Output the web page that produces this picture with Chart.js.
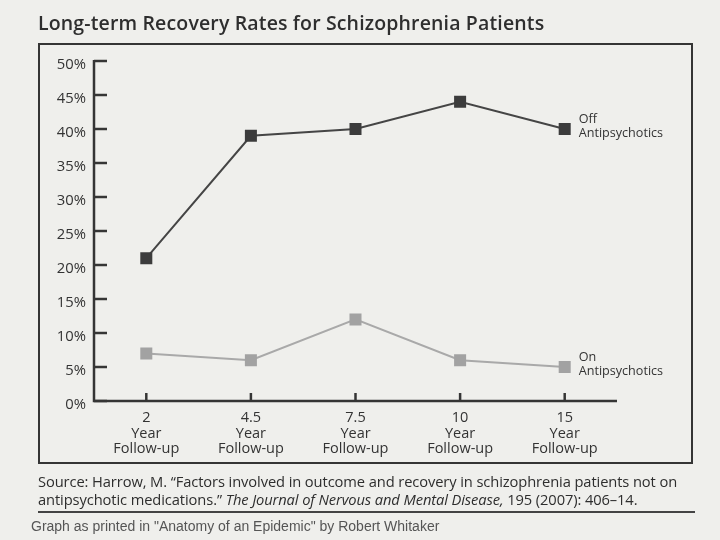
<!DOCTYPE html>
<html>
<head>
<meta charset="utf-8">
<script src="https://cdn.jsdelivr.net/npm/chart.js@4.4.1/dist/chart.umd.min.js"></script>
<style>
  html, body { margin: 0; padding: 0; background: #efefec; }
  #wrap { position: relative; width: 720px; height: 540px; overflow: hidden; font-family: "Open Sans", sans-serif; color: #333; }
  #c { position: absolute; left: 0; top: 0; }
  .t { position: absolute; white-space: nowrap; }
  #title { left: 38px; top: 9px; font-size: 19.5px; font-weight: 600; color: #2e2e2e; letter-spacing: 0.15px; }
  #box { position: absolute; left: 38px; top: 43px; width: 651px; height: 417px; border: 2.5px solid #353535; }
  #src1 { left: 38px; top: 471px; font-size: 14.7px; color: #2e2e2e; letter-spacing: -0.1px; }
  #src2 { left: 38px; top: 489px; font-size: 14.7px; color: #2e2e2e; letter-spacing: -0.1px; }
  #rule { position: absolute; left: 38px; top: 511px; width: 657px; height: 2px; background: #444; }
  #cap { left: 31px; top: 518px; font-family: "Liberation Sans", Arial, sans-serif; font-size: 14px; color: #555; }
</style>
</head>
<body>
<div id="wrap">
  <div id="box"></div>
  <canvas id="c" width="720" height="540"></canvas>
  <div class="t" id="title">Long-term Recovery Rates for Schizophrenia Patients</div>
  <div class="t" id="src1">Source: Harrow, M. “Factors involved in outcome and recovery in schizophrenia patients not on</div>
  <div class="t" id="src2">antipsychotic medications.” <i>The Journal of Nervous and Mental Disease,</i> 195 (2007): 406–14.</div>
  <div id="rule"></div>
  <div class="t" id="cap">Graph as printed in "Anatomy of an Epidemic" by Robert Whitaker</div>
</div>
<script>
const categories = [['2', 'Year', 'Follow-up'], ['4.5', 'Year', 'Follow-up'], ['7.5', 'Year', 'Follow-up'], ['10', 'Year', 'Follow-up'], ['15', 'Year', 'Follow-up']];
const offValues = [21, 39, 40, 44, 40];
const onValues = [7, 6, 12, 6, 5];
const seriesLabels = [['Off', 'Antipsychotics'], ['On', 'Antipsychotics']];
const yTicks = [0, 5, 10, 15, 20, 25, 30, 35, 40, 45, 50];

// axes, ticks and end labels drawn from the chart's own scales
const axesPlugin = {
  id: 'axesPlugin',
  afterDatasetsDraw(chart) {
    const ctx = chart.ctx;
    const area = chart.chartArea;
    const x = chart.scales.x, y = chart.scales.y;
    ctx.save();
    ctx.strokeStyle = '#353535';
    ctx.lineWidth = 2.5;
    ctx.beginPath();
    ctx.moveTo(area.left, y.getPixelForValue(50) - 1);
    ctx.lineTo(area.left, area.bottom);
    ctx.lineTo(area.right, area.bottom);
    ctx.stroke();

    ctx.fillStyle = '#333';
    ctx.font = '14.8px "Open Sans", sans-serif';
    ctx.textAlign = 'right';
    ctx.textBaseline = 'middle';
    yTicks.forEach(v => {
      const py = y.getPixelForValue(v);
      ctx.beginPath();
      ctx.moveTo(area.left, py);
      ctx.lineTo(area.left + 13, py);
      ctx.stroke();
      ctx.fillText(v + '%', area.left - 8, py + 4);
    });

    ctx.textAlign = 'center';
    ctx.font = '14.5px "Open Sans", sans-serif';
    categories.forEach((lines, i) => {
      const px = x.getPixelForValue(i);
      ctx.beginPath();
      ctx.moveTo(px, area.bottom);
      ctx.lineTo(px, area.bottom - 8);
      ctx.stroke();
      lines.forEach((s, j) => ctx.fillText(s, px, area.bottom + 17 + j * 15.5));
    });

    ctx.textAlign = 'left';
    ctx.font = '12.6px "Open Sans", sans-serif';
    chart.data.datasets.forEach((ds, k) => {
      const last = ds.data.length - 1;
      const px = x.getPixelForValue(last);
      const py = y.getPixelForValue(ds.data[last]);
      const lab = seriesLabels[k];
      ctx.fillText(lab[0], px + 14, py - 10);
      ctx.fillText(lab[1], px + 14, py + 4);
    });
    ctx.restore();
  }
};

new Chart(document.getElementById('c'), {
  type: 'line',
  data: {
    labels: categories.map(c => c.join(' ')),
    datasets: [
      {
        label: seriesLabels[0].join(' '),
        data: offValues,
        borderColor: '#454545',
        borderWidth: 2,
        pointStyle: 'rect',
        pointRadius: 8.5,
        pointBackgroundColor: '#3c3c3c',
        pointBorderColor: '#3c3c3c',
        pointBorderWidth: 0,
        tension: 0
      },
      {
        label: seriesLabels[1].join(' '),
        data: onValues,
        borderColor: '#a9a9a9',
        borderWidth: 2,
        pointStyle: 'rect',
        pointRadius: 8.5,
        pointBackgroundColor: '#a2a2a2',
        pointBorderColor: '#a2a2a2',
        pointBorderWidth: 0,
        tension: 0
      }
    ]
  },
  options: {
    responsive: false,
    animation: false,
    devicePixelRatio: 1,
    layout: { padding: { left: 94, right: 103, top: 61, bottom: 139 } },
    plugins: { legend: { display: false }, tooltip: { enabled: false } },
    scales: {
      x: { type: 'category', offset: true, display: false },
      y: { min: 0, max: 50, display: false }
    }
  },
  plugins: [axesPlugin]
});
</script>
</body>
</html>
